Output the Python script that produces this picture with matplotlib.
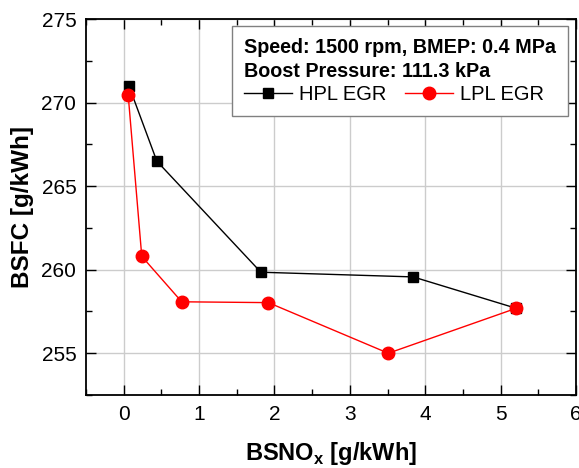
import matplotlib
matplotlib.use('Agg')
import matplotlib.pyplot as plt
from matplotlib.ticker import MultipleLocator

plt.rcParams['font.family'] = ['Liberation Sans', 'DejaVu Sans']
plt.rcParams['mathtext.fontset'] = 'custom'
plt.rcParams['mathtext.rm'] = 'Liberation Sans'
plt.rcParams['mathtext.bf'] = 'Liberation Sans:bold'

# data
hpl_x = [0.07, 0.44, 1.82, 3.84, 5.2]
hpl_y = [271.0, 266.5, 259.85, 259.57, 257.7]
lpl_x = [0.06, 0.24, 0.77, 1.92, 3.51, 5.2]
lpl_y = [270.45, 260.8, 258.08, 258.03, 255.0, 257.68]

fig = plt.figure(figsize=(5.79, 4.68), dpi=100)
ax = fig.add_axes([0.1485, 0.156, 0.8463, 0.803])

ax.plot(hpl_x, hpl_y, '-s', color='black', lw=1.0, ms=7.5, label='HPL EGR', zorder=3)
ax.plot(lpl_x, lpl_y, '-o', color='red', markerfacecolor='red', markeredgecolor='red',
        lw=1.0, ms=9, label='LPL EGR', zorder=4)

ax.set_xlim(-0.5, 6)
ax.set_ylim(252.5, 275)
ax.xaxis.set_major_locator(MultipleLocator(1))
ax.xaxis.set_minor_locator(MultipleLocator(0.5))
ax.yaxis.set_major_locator(MultipleLocator(5))
ax.yaxis.set_minor_locator(MultipleLocator(2.5))
ax.tick_params(which='both', direction='in', top=True, right=True, width=1.0)
ax.tick_params(which='major', length=7, labelsize=15, pad=7)
ax.tick_params(which='minor', length=4)
ax.grid(True, which='major', color='#cccccc', lw=1.0, zorder=0)
ax.set_axisbelow(True)
for s in ax.spines.values():
    s.set_linewidth(1.3)

ax.set_xlabel(r'BSNO$_\mathbf{x}$ [g/kWh]', fontsize=17, fontweight='bold', labelpad=12)
ax.set_ylabel('BSFC [g/kWh]', fontsize=17.5, fontweight='bold', labelpad=5)

leg = ax.legend(title='Speed: 1500 rpm, BMEP: 0.4 MPa\nBoost Pressure: 111.3 kPa',
                ncol=2, loc='upper right', bbox_to_anchor=(0.984, 0.981),
                alignment='left', fontsize=14.5,
                title_fontproperties={'weight': 'bold', 'size': 14.2},
                frameon=True, fancybox=False, edgecolor='#808080', framealpha=1,
                handlelength=2.4, handletextpad=0.35, columnspacing=0.9,
                borderpad=0.6, borderaxespad=0, labelspacing=0.2)
leg.get_frame().set_linewidth(1.0)
leg.get_title().set_linespacing(1.3)

fig.savefig('out.png', dpi=100)
